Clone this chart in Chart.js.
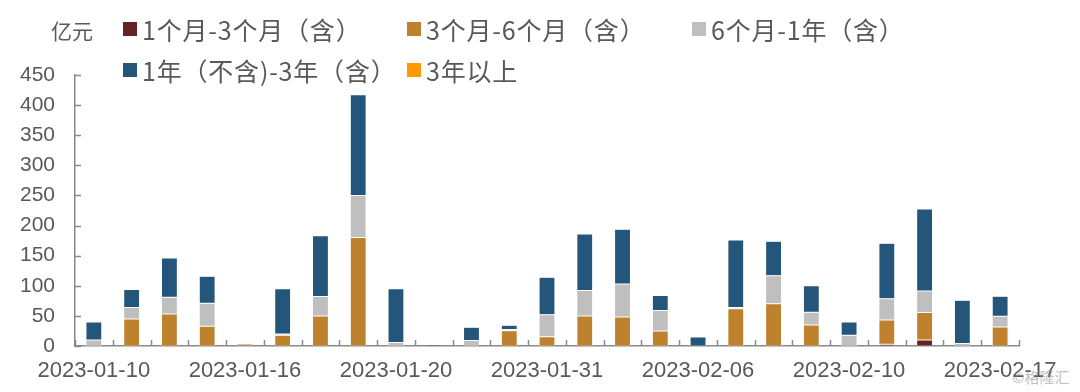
<!DOCTYPE html>
<html>
<head>
<meta charset="utf-8">
<script src="https://cdn.jsdelivr.net/npm/chart.js@4/dist/chart.umd.min.js"></script>
<style>
  html, body { margin: 0; padding: 0; background: #ffffff; }
  #wrap { position: relative; width: 1080px; height: 392px; overflow: hidden; }
  canvas { position: absolute; left: 0; top: 0; }
  .lg { position: absolute; font-family: "Noto Sans CJK SC", "Liberation Sans", sans-serif; font-size: 25px; letter-spacing: 0.8px; color: #595959; white-space: nowrap; line-height: 24px; }
  .sq { position: absolute; width: 14px; height: 14px; }
  .unit { position: absolute; left: 51px; top: 18px; font-family: "Noto Sans CJK SC", sans-serif; font-size: 21px; line-height: 24px; color: #595959; }
  .wm { position: absolute; left: 1012px; top: 366px; font-family: "Noto Sans CJK SC", sans-serif; font-size: 15px; color: rgba(140,140,140,0.55); }
</style>
</head>
<body>
<div id="wrap">
  <canvas id="c" width="1080" height="392"></canvas>
  <div class="unit">亿元</div>
  <div id="legend"></div>
  <div class="wm">©格隆汇</div>
</div>
<script>
// ---- data ----
const categories = [
  "2023-01-10","2023-01-11","2023-01-12","2023-01-13","2023-01-16","2023-01-17","2023-01-18","2023-01-19",
  "2023-01-20","2023-01-28","2023-01-29","2023-01-30","2023-01-31","2023-02-01","2023-02-02","2023-02-03",
  "2023-02-06","2023-02-07","2023-02-08","2023-02-09","2023-02-10","2023-02-13","2023-02-14","2023-02-15",
  "2023-02-17"
];
const seriesNames = ["1个月-3个月（含）", "3个月-6个月（含）", "6个月-1年（含）", "1年（不含)-3年（含）", "3年以上"];
const m1to3   = [0,0,0,0,0,0,0,0,0,0,0,0,0,0,0,0,0,0,0,0,0,3,10,0,0];
const m3to6   = [0,45,53,33,3.5,18,50,180,0,0,0,25.5,15.5,50,48,25,0,62,70,35,0,40,45.5,0,31.5];
const m6to1y  = [10,19,28,38,0,2,32,70,6,0,9,2,36.5,42,55,34,0,2,46.5,21,18,35.5,36,4,18];
const y1to3   = [30,30,65,45,0,75,101,167,89,2.5,22,7,62,94,91,25,15,112,57.5,44,22,92,136,72,33];
const y3plus  = [0,0,1,0,0,1.5,0.5,2,0,0,0,0,2,1.5,0,0,0,1,0,1.5,0,0,0,0,0];
const yTicks  = [0,50,100,150,200,250,300,350,400,450];

const colors = ["#632423", "#BE822F", "#BFBFBF", "#24557A", "#FF9900"];
const seriesData = [m1to3, m3to6, m6to1y, y1to3, y3plus];

// ---- legend (HTML) ----
const legendPos = [[123, 22], [407, 22], [692, 22], [123, 63], [407, 63]];
const lg = document.getElementById('legend');
seriesNames.forEach((n, i) => {
  const [x, y] = legendPos[i];
  const s = document.createElement('div');
  s.className = 'sq';
  s.style.left = x + 'px'; s.style.top = y + 'px'; s.style.background = colors[i];
  lg.appendChild(s);
  const t = document.createElement('div');
  t.className = 'lg';
  t.style.left = (x + 19) + 'px'; t.style.top = (y - 5) + 'px';
  t.textContent = n;
  lg.appendChild(t);
});

// ---- inward tick marks ----
const inwardTicks = {
  id: 'inwardTicks',
  afterDraw(chart) {
    const {ctx, chartArea: a, scales: {x, y}} = chart;
    ctx.save();
    ctx.strokeStyle = '#898989';
    ctx.lineWidth = 1.5;
    const n = categories.length;
    const w = (a.right - a.left) / n;
    ctx.beginPath();
    for (let i = 0; i <= n; i++) {
      const px = Math.round(a.left + i * w) + 0.5;
      ctx.moveTo(px, a.bottom);
      ctx.lineTo(px, a.bottom - 6);
    }
    yTicks.forEach(v => {
      const py = Math.round(y.getPixelForValue(v)) + 0.5;
      ctx.moveTo(a.left, py);
      ctx.lineTo(a.left + 6, py);
    });
    ctx.stroke();
    ctx.restore();
  }
};

new Chart(document.getElementById('c'), {
  type: 'bar',
  data: {
    labels: categories,
    datasets: seriesNames.map((n, i) => ({
      label: n,
      data: seriesData[i],
      backgroundColor: colors[i],
      borderColor: 'rgba(255,255,255,0.6)',
      borderWidth: 0.5,
      borderSkipped: false,
      barPercentage: 0.42,
      categoryPercentage: 1.0
    }))
  },
  options: {
    responsive: false,
    animation: false,
    events: [],
    layout: { padding: { top: 75, right: 61, left: 0, bottom: 0 } },
    plugins: { legend: { display: false }, tooltip: { enabled: false } },
    scales: {
      x: {
        stacked: true,
        grid: { display: false, drawTicks: false },
        border: { display: true, color: '#898989', width: 1.5 },
        ticks: {
          autoSkip: false, maxRotation: 0, minRotation: 0,
          color: '#595959',
          font: { family: '"Liberation Sans", Arial, sans-serif', size: 22 },
          padding: 12,
          callback: (v, i) => (i % 4 === 0 ? categories[i] : '')
        },
        afterFit: s => { s.height = 46; }
      },
      y: {
        stacked: true,
        min: 0, max: 450,
        grid: { display: false, drawTicks: false },
        border: { display: true, color: '#898989', width: 1.5 },
        afterBuildTicks: s => { s.ticks = yTicks.map(v => ({ value: v })); },
        ticks: {
          color: '#595959',
          font: { family: '"Liberation Sans", Arial, sans-serif', size: 21 },
          padding: 20
        },
        afterFit: s => { s.width = 75; }
      }
    }
  },
  plugins: [inwardTicks]
});
</script>
</body>
</html>
